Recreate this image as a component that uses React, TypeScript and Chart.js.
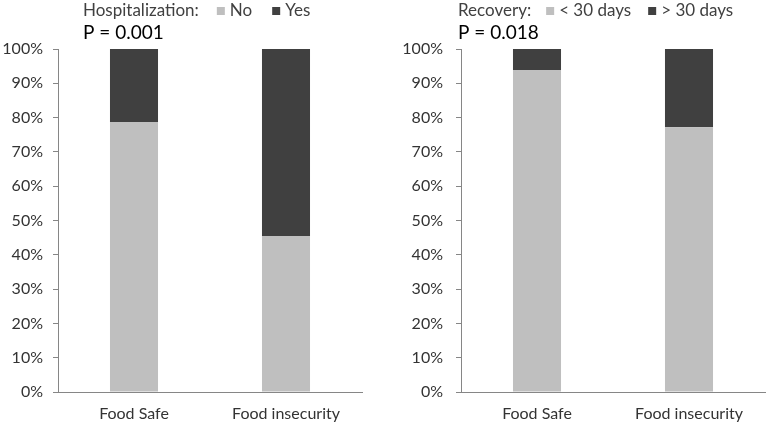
import React, { useEffect, useRef } from "react";
import { Chart, registerables } from "chart.js";

Chart.register(...registerables);

const categories = ["Food Safe", "Food insecurity"];
const hospNo = [78.7, 45.5];
const hospYes = [21.3, 54.5];
const recLess30 = [93.9, 77.2];
const recMore30 = [6.1, 22.8];
const leftLegendTitle = "Hospitalization:";
const leftSeriesNames = ["No", "Yes"];
const rightLegendTitle = "Recovery:";
const rightSeriesNames = ["< 30 days", "> 30 days"];
const leftPText = "P = 0.001";
const rightPText = "P = 0.018";

const LIGHT = "#bfbfbf";
const DARK = "#404040";
const AXIS = "#868686";
const TEXT = "#333333";
const FONT = "Lato, 'Open Sans', sans-serif";

type PanelProps = {
  left: number;
  width: number;
  yWidth: number;
  tickPad: number;
  padRight: number;
  headX: number;
  legendGap: number;
  legendTitle: string;
  seriesNames: string[];
  series: number[][];
  pText: string;
};

function Panel(props: PanelProps) {
  const ref = useRef<HTMLCanvasElement | null>(null);
  useEffect(() => {
    if (!ref.current) return;
    const headerPlugin = {
      id: "header",
      afterDraw(chart: any) {
        const ctx = chart.ctx;
        ctx.save();
        ctx.textBaseline = "middle";
        ctx.fillStyle = "#404040";
        ctx.font = `17px ${FONT}`;
        let x = props.headX;
        const ly = 11;
        ctx.fillText(props.legendTitle, x, ly);
        x += ctx.measureText(props.legendTitle).width + props.legendGap;
        chart.data.datasets.forEach((ds: any) => {
          ctx.fillStyle = ds.backgroundColor;
          ctx.fillRect(x, ly - 4, 8, 8);
          ctx.fillStyle = "#404040";
          ctx.fillText(ds.label, x + 13, ly);
          x += 13 + ctx.measureText(ds.label).width + props.legendGap + 2;
        });
        ctx.font = `19px ${FONT}`;
        ctx.fillStyle = "#000";
        ctx.fillText(props.pText, props.headX, 33);
        ctx.restore();
      },
    };
    const chart = new Chart(ref.current, {
      type: "bar",
      data: {
        labels: categories,
        datasets: [
          {
            label: props.seriesNames[0],
            data: props.series[0],
            backgroundColor: LIGHT,
            categoryPercentage: 1,
            barPercentage: 0.316,
          },
          {
            label: props.seriesNames[1],
            data: props.series[1],
            backgroundColor: DARK,
            categoryPercentage: 1,
            barPercentage: 0.316,
          },
        ],
      },
      options: {
        animation: false,
        responsive: true,
        maintainAspectRatio: false,
        layout: { padding: { top: 49, right: props.padRight, left: 0, bottom: 0 } },
        plugins: {
          legend: { display: false },
          title: { display: false },
          tooltip: { enabled: false },
        },
        scales: {
          x: {
            stacked: true,
            grid: { drawOnChartArea: false, drawTicks: false },
            border: { display: true, color: AXIS, width: 1 },
            ticks: { color: TEXT, font: { family: FONT, size: 16 }, padding: 12 },
            afterFit: (s: any) => {
              s.height = 36;
            },
          },
          y: {
            stacked: true,
            min: 0,
            max: 100,
            grid: { drawOnChartArea: false, drawTicks: true, tickLength: 5, color: AXIS },
            border: { display: true, color: AXIS, width: 1 },
            ticks: {
              stepSize: 10,
              color: TEXT,
              font: { family: FONT, size: 16 },
              padding: props.tickPad,
              callback: (v: any) => `${v}%`,
            },
            afterFit: (s: any) => {
              s.width = props.yWidth;
            },
          },
        },
      },
      plugins: [headerPlugin],
    });
    return () => chart.destroy();
  }, []);
  return (
    <div
      style={{
        position: "absolute",
        left: props.left,
        top: 0,
        width: props.width,
        height: 428,
      }}
    >
      <canvas ref={ref} />
    </div>
  );
}

export default function App() {
  return (
    <div
      style={{
        position: "absolute",
        left: 0,
        top: 0,
        width: 767,
        height: 428,
        background: "#fff",
        overflow: "hidden",
      }}
    >
      <Panel
        left={0}
        width={380}
        yWidth={58}
        tickPad={10}
        padRight={18}
        headX={83}
        legendGap={18}
        legendTitle={leftLegendTitle}
        seriesNames={leftSeriesNames}
        series={[hospNo, hospYes]}
        pText={leftPText}
      />
      <Panel
        left={383}
        width={384}
        yWidth={78}
        tickPad={13}
        padRight={2}
        headX={75}
        legendGap={15}
        legendTitle={rightLegendTitle}
        seriesNames={rightSeriesNames}
        series={[recLess30, recMore30]}
        pText={rightPText}
      />
    </div>
  );
}
